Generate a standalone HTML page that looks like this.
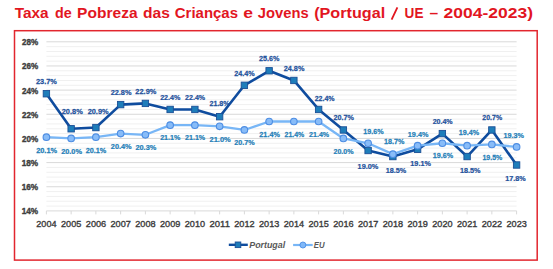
<!DOCTYPE html><html><head><meta charset="utf-8"><style>html,body{margin:0;padding:0;background:#fff;width:553px;height:269px;overflow:hidden}svg{display:block}text{font-family:"Liberation Sans",sans-serif}</style></head><body>
<svg width="553" height="269" viewBox="0 0 553 269">
<text transform="translate(14.65,18.00) scale(1.038,1)" font-size="14.8" font-weight="bold" font-style="normal" fill="#E2161F" >Taxa</text>
<text transform="translate(54.93,18.00) scale(0.967,1)" font-size="14.8" font-weight="bold" font-style="normal" fill="#E2161F" >de</text>
<text transform="translate(77.09,18.00) scale(1.051,1)" font-size="14.8" font-weight="bold" font-style="normal" fill="#E2161F" >Pobreza</text>
<text transform="translate(143.08,18.00) scale(1.055,1)" font-size="14.8" font-weight="bold" font-style="normal" fill="#E2161F" >das</text>
<text transform="translate(174.80,18.00) scale(1.012,1)" font-size="14.8" font-weight="bold" font-style="normal" fill="#E2161F" >Crianças</text>
<text transform="translate(243.20,18.00) scale(1.182,1)" font-size="14.8" font-weight="bold" font-style="normal" fill="#E2161F" >e</text>
<text transform="translate(257.78,18.00) scale(0.997,1)" font-size="14.8" font-weight="bold" font-style="normal" fill="#E2161F" >Jovens</text>
<text transform="translate(314.19,18.00) scale(1.093,1)" font-size="14.8" font-weight="bold" font-style="normal" fill="#E2161F" >(Portugal</text>
<text transform="translate(404.59,18.00) scale(0.917,1)" font-size="14.8" font-weight="bold" font-style="normal" fill="#E2161F" >UE</text>
<text transform="translate(429.43,18.00) scale(1.051,1)" font-size="14.8" font-weight="bold" font-style="normal" fill="#E2161F" >–</text>
<text transform="translate(443.59,18.00) scale(1.181,1)" font-size="14.8" font-weight="bold" font-style="normal" fill="#E2161F" >2004-2023)</text>
<line x1="391.6" y1="19.6" x2="397.4" y2="7.4" stroke="#E2161F" stroke-width="1.8"/>
<rect x="14.5" y="30.7" width="522.7" height="229.4" fill="none" stroke="#E2262E" stroke-width="1.5"/>
<line x1="46.40" x2="516.6" y1="206.07" y2="206.07" stroke="#F0F0F0" stroke-width="1"/>
<line x1="46.40" x2="516.6" y1="201.24" y2="201.24" stroke="#F0F0F0" stroke-width="1"/>
<line x1="46.40" x2="516.6" y1="196.41" y2="196.41" stroke="#F0F0F0" stroke-width="1"/>
<line x1="46.40" x2="516.6" y1="191.57" y2="191.57" stroke="#F0F0F0" stroke-width="1"/>
<line x1="46.40" x2="516.6" y1="186.74" y2="186.74" stroke="#D9D9D9" stroke-width="1"/>
<line x1="46.40" x2="516.6" y1="181.91" y2="181.91" stroke="#F0F0F0" stroke-width="1"/>
<line x1="46.40" x2="516.6" y1="177.08" y2="177.08" stroke="#F0F0F0" stroke-width="1"/>
<line x1="46.40" x2="516.6" y1="172.25" y2="172.25" stroke="#F0F0F0" stroke-width="1"/>
<line x1="46.40" x2="516.6" y1="167.42" y2="167.42" stroke="#F0F0F0" stroke-width="1"/>
<line x1="46.40" x2="516.6" y1="162.59" y2="162.59" stroke="#D9D9D9" stroke-width="1"/>
<line x1="46.40" x2="516.6" y1="157.75" y2="157.75" stroke="#F0F0F0" stroke-width="1"/>
<line x1="46.40" x2="516.6" y1="152.92" y2="152.92" stroke="#F0F0F0" stroke-width="1"/>
<line x1="46.40" x2="516.6" y1="148.09" y2="148.09" stroke="#F0F0F0" stroke-width="1"/>
<line x1="46.40" x2="516.6" y1="143.26" y2="143.26" stroke="#F0F0F0" stroke-width="1"/>
<line x1="46.40" x2="516.6" y1="138.43" y2="138.43" stroke="#D9D9D9" stroke-width="1"/>
<line x1="46.40" x2="516.6" y1="133.60" y2="133.60" stroke="#F0F0F0" stroke-width="1"/>
<line x1="46.40" x2="516.6" y1="128.77" y2="128.77" stroke="#F0F0F0" stroke-width="1"/>
<line x1="46.40" x2="516.6" y1="123.93" y2="123.93" stroke="#F0F0F0" stroke-width="1"/>
<line x1="46.40" x2="516.6" y1="119.10" y2="119.10" stroke="#F0F0F0" stroke-width="1"/>
<line x1="46.40" x2="516.6" y1="114.27" y2="114.27" stroke="#D9D9D9" stroke-width="1"/>
<line x1="46.40" x2="516.6" y1="109.44" y2="109.44" stroke="#F0F0F0" stroke-width="1"/>
<line x1="46.40" x2="516.6" y1="104.61" y2="104.61" stroke="#F0F0F0" stroke-width="1"/>
<line x1="46.40" x2="516.6" y1="99.78" y2="99.78" stroke="#F0F0F0" stroke-width="1"/>
<line x1="46.40" x2="516.6" y1="94.95" y2="94.95" stroke="#F0F0F0" stroke-width="1"/>
<line x1="46.40" x2="516.6" y1="90.11" y2="90.11" stroke="#D9D9D9" stroke-width="1"/>
<line x1="46.40" x2="516.6" y1="85.28" y2="85.28" stroke="#F0F0F0" stroke-width="1"/>
<line x1="46.40" x2="516.6" y1="80.45" y2="80.45" stroke="#F0F0F0" stroke-width="1"/>
<line x1="46.40" x2="516.6" y1="75.62" y2="75.62" stroke="#F0F0F0" stroke-width="1"/>
<line x1="46.40" x2="516.6" y1="70.79" y2="70.79" stroke="#F0F0F0" stroke-width="1"/>
<line x1="46.40" x2="516.6" y1="65.96" y2="65.96" stroke="#D9D9D9" stroke-width="1"/>
<line x1="46.40" x2="516.6" y1="61.13" y2="61.13" stroke="#F0F0F0" stroke-width="1"/>
<line x1="46.40" x2="516.6" y1="56.29" y2="56.29" stroke="#F0F0F0" stroke-width="1"/>
<line x1="46.40" x2="516.6" y1="51.46" y2="51.46" stroke="#F0F0F0" stroke-width="1"/>
<line x1="46.40" x2="516.6" y1="46.63" y2="46.63" stroke="#F0F0F0" stroke-width="1"/>
<line x1="46.40" x2="516.6" y1="41.80" y2="41.80" stroke="#D9D9D9" stroke-width="1"/>
<line x1="46.40" x2="516.6" y1="210.90" y2="210.90" stroke="#D9D9D9" stroke-width="1"/>
<line x1="46.40" x2="46.40" y1="210.90" y2="214.40" stroke="#D9D9D9" stroke-width="1"/>
<line x1="71.15" x2="71.15" y1="210.90" y2="214.40" stroke="#D9D9D9" stroke-width="1"/>
<line x1="95.89" x2="95.89" y1="210.90" y2="214.40" stroke="#D9D9D9" stroke-width="1"/>
<line x1="120.64" x2="120.64" y1="210.90" y2="214.40" stroke="#D9D9D9" stroke-width="1"/>
<line x1="145.39" x2="145.39" y1="210.90" y2="214.40" stroke="#D9D9D9" stroke-width="1"/>
<line x1="170.14" x2="170.14" y1="210.90" y2="214.40" stroke="#D9D9D9" stroke-width="1"/>
<line x1="194.88" x2="194.88" y1="210.90" y2="214.40" stroke="#D9D9D9" stroke-width="1"/>
<line x1="219.63" x2="219.63" y1="210.90" y2="214.40" stroke="#D9D9D9" stroke-width="1"/>
<line x1="244.38" x2="244.38" y1="210.90" y2="214.40" stroke="#D9D9D9" stroke-width="1"/>
<line x1="269.13" x2="269.13" y1="210.90" y2="214.40" stroke="#D9D9D9" stroke-width="1"/>
<line x1="293.87" x2="293.87" y1="210.90" y2="214.40" stroke="#D9D9D9" stroke-width="1"/>
<line x1="318.62" x2="318.62" y1="210.90" y2="214.40" stroke="#D9D9D9" stroke-width="1"/>
<line x1="343.37" x2="343.37" y1="210.90" y2="214.40" stroke="#D9D9D9" stroke-width="1"/>
<line x1="368.12" x2="368.12" y1="210.90" y2="214.40" stroke="#D9D9D9" stroke-width="1"/>
<line x1="392.86" x2="392.86" y1="210.90" y2="214.40" stroke="#D9D9D9" stroke-width="1"/>
<line x1="417.61" x2="417.61" y1="210.90" y2="214.40" stroke="#D9D9D9" stroke-width="1"/>
<line x1="442.36" x2="442.36" y1="210.90" y2="214.40" stroke="#D9D9D9" stroke-width="1"/>
<line x1="467.11" x2="467.11" y1="210.90" y2="214.40" stroke="#D9D9D9" stroke-width="1"/>
<line x1="491.85" x2="491.85" y1="210.90" y2="214.40" stroke="#D9D9D9" stroke-width="1"/>
<line x1="516.60" x2="516.60" y1="210.90" y2="214.40" stroke="#D9D9D9" stroke-width="1"/>
<text transform="translate(21.67,214.30) scale(0.934,1)" font-size="8.8" font-weight="bold" font-style="normal" fill="#3F3F3F" stroke="#3F3F3F" stroke-width="0.4">14%</text>
<text transform="translate(21.67,190.14) scale(0.934,1)" font-size="8.8" font-weight="bold" font-style="normal" fill="#3F3F3F" stroke="#3F3F3F" stroke-width="0.4">16%</text>
<text transform="translate(21.67,165.99) scale(0.934,1)" font-size="8.8" font-weight="bold" font-style="normal" fill="#3F3F3F" stroke="#3F3F3F" stroke-width="0.4">18%</text>
<text transform="translate(21.92,141.83) scale(0.920,1)" font-size="8.8" font-weight="bold" font-style="normal" fill="#3F3F3F" stroke="#3F3F3F" stroke-width="0.4">20%</text>
<text transform="translate(21.92,117.67) scale(0.920,1)" font-size="8.8" font-weight="bold" font-style="normal" fill="#3F3F3F" stroke="#3F3F3F" stroke-width="0.4">22%</text>
<text transform="translate(21.92,93.51) scale(0.920,1)" font-size="8.8" font-weight="bold" font-style="normal" fill="#3F3F3F" stroke="#3F3F3F" stroke-width="0.4">24%</text>
<text transform="translate(21.92,69.36) scale(0.920,1)" font-size="8.8" font-weight="bold" font-style="normal" fill="#3F3F3F" stroke="#3F3F3F" stroke-width="0.4">26%</text>
<text transform="translate(21.92,45.20) scale(0.920,1)" font-size="8.8" font-weight="bold" font-style="normal" fill="#3F3F3F" stroke="#3F3F3F" stroke-width="0.4">28%</text>
<text transform="translate(36.30,227.10) scale(0.978,1)" font-size="9.3" font-weight="normal" font-style="normal" fill="#3A3A3A" stroke="#3A3A3A" stroke-width="0.35">2004</text>
<text transform="translate(61.04,227.10) scale(0.982,1)" font-size="9.3" font-weight="normal" font-style="normal" fill="#3A3A3A" stroke="#3A3A3A" stroke-width="0.35">2005</text>
<text transform="translate(85.79,227.10) scale(0.984,1)" font-size="9.3" font-weight="normal" font-style="normal" fill="#3A3A3A" stroke="#3A3A3A" stroke-width="0.35">2006</text>
<text transform="translate(110.53,227.10) scale(0.987,1)" font-size="9.3" font-weight="normal" font-style="normal" fill="#3A3A3A" stroke="#3A3A3A" stroke-width="0.35">2007</text>
<text transform="translate(135.28,227.10) scale(0.982,1)" font-size="9.3" font-weight="normal" font-style="normal" fill="#3A3A3A" stroke="#3A3A3A" stroke-width="0.35">2008</text>
<text transform="translate(160.03,227.10) scale(0.984,1)" font-size="9.3" font-weight="normal" font-style="normal" fill="#3A3A3A" stroke="#3A3A3A" stroke-width="0.35">2009</text>
<text transform="translate(184.78,227.10) scale(0.982,1)" font-size="9.3" font-weight="normal" font-style="normal" fill="#3A3A3A" stroke="#3A3A3A" stroke-width="0.35">2010</text>
<text transform="translate(209.51,227.10) scale(1.023,1)" font-size="9.3" font-weight="normal" font-style="normal" fill="#3A3A3A" stroke="#3A3A3A" stroke-width="0.35">2011</text>
<text transform="translate(234.27,227.10) scale(0.987,1)" font-size="9.3" font-weight="normal" font-style="normal" fill="#3A3A3A" stroke="#3A3A3A" stroke-width="0.35">2012</text>
<text transform="translate(259.02,227.10) scale(0.984,1)" font-size="9.3" font-weight="normal" font-style="normal" fill="#3A3A3A" stroke="#3A3A3A" stroke-width="0.35">2013</text>
<text transform="translate(283.77,227.10) scale(0.978,1)" font-size="9.3" font-weight="normal" font-style="normal" fill="#3A3A3A" stroke="#3A3A3A" stroke-width="0.35">2014</text>
<text transform="translate(308.51,227.10) scale(0.982,1)" font-size="9.3" font-weight="normal" font-style="normal" fill="#3A3A3A" stroke="#3A3A3A" stroke-width="0.35">2015</text>
<text transform="translate(333.26,227.10) scale(0.984,1)" font-size="9.3" font-weight="normal" font-style="normal" fill="#3A3A3A" stroke="#3A3A3A" stroke-width="0.35">2016</text>
<text transform="translate(358.01,227.10) scale(0.987,1)" font-size="9.3" font-weight="normal" font-style="normal" fill="#3A3A3A" stroke="#3A3A3A" stroke-width="0.35">2017</text>
<text transform="translate(382.76,227.10) scale(0.982,1)" font-size="9.3" font-weight="normal" font-style="normal" fill="#3A3A3A" stroke="#3A3A3A" stroke-width="0.35">2018</text>
<text transform="translate(407.50,227.10) scale(0.984,1)" font-size="9.3" font-weight="normal" font-style="normal" fill="#3A3A3A" stroke="#3A3A3A" stroke-width="0.35">2019</text>
<text transform="translate(432.25,227.10) scale(0.982,1)" font-size="9.3" font-weight="normal" font-style="normal" fill="#3A3A3A" stroke="#3A3A3A" stroke-width="0.35">2020</text>
<text transform="translate(457.00,227.10) scale(0.987,1)" font-size="9.3" font-weight="normal" font-style="normal" fill="#3A3A3A" stroke="#3A3A3A" stroke-width="0.35">2021</text>
<text transform="translate(481.74,227.10) scale(0.987,1)" font-size="9.3" font-weight="normal" font-style="normal" fill="#3A3A3A" stroke="#3A3A3A" stroke-width="0.35">2022</text>
<text transform="translate(506.49,227.10) scale(0.984,1)" font-size="9.3" font-weight="normal" font-style="normal" fill="#3A3A3A" stroke="#3A3A3A" stroke-width="0.35">2023</text>
<polyline points="46.40,93.74 71.15,128.77 95.89,127.56 120.64,104.61 145.39,103.40 170.14,109.44 194.88,109.44 219.63,116.69 244.38,85.28 269.13,70.79 293.87,80.45 318.62,109.44 343.37,129.97 368.12,150.51 392.86,156.55 417.61,149.30 442.36,133.60 467.11,156.55 491.85,129.97 516.60,165.00" fill="none" stroke="#0F4C9E" stroke-width="2.6" stroke-linejoin="round"/>
<rect x="43.20" y="90.54" width="6.4" height="6.4" fill="#1E7DBA" stroke="#1B4F96" stroke-width="0.9"/>
<rect x="67.95" y="125.57" width="6.4" height="6.4" fill="#1E7DBA" stroke="#1B4F96" stroke-width="0.9"/>
<rect x="92.69" y="124.36" width="6.4" height="6.4" fill="#1E7DBA" stroke="#1B4F96" stroke-width="0.9"/>
<rect x="117.44" y="101.41" width="6.4" height="6.4" fill="#1E7DBA" stroke="#1B4F96" stroke-width="0.9"/>
<rect x="142.19" y="100.20" width="6.4" height="6.4" fill="#1E7DBA" stroke="#1B4F96" stroke-width="0.9"/>
<rect x="166.94" y="106.24" width="6.4" height="6.4" fill="#1E7DBA" stroke="#1B4F96" stroke-width="0.9"/>
<rect x="191.68" y="106.24" width="6.4" height="6.4" fill="#1E7DBA" stroke="#1B4F96" stroke-width="0.9"/>
<rect x="216.43" y="113.49" width="6.4" height="6.4" fill="#1E7DBA" stroke="#1B4F96" stroke-width="0.9"/>
<rect x="241.18" y="82.08" width="6.4" height="6.4" fill="#1E7DBA" stroke="#1B4F96" stroke-width="0.9"/>
<rect x="265.93" y="67.59" width="6.4" height="6.4" fill="#1E7DBA" stroke="#1B4F96" stroke-width="0.9"/>
<rect x="290.67" y="77.25" width="6.4" height="6.4" fill="#1E7DBA" stroke="#1B4F96" stroke-width="0.9"/>
<rect x="315.42" y="106.24" width="6.4" height="6.4" fill="#1E7DBA" stroke="#1B4F96" stroke-width="0.9"/>
<rect x="340.17" y="126.77" width="6.4" height="6.4" fill="#1E7DBA" stroke="#1B4F96" stroke-width="0.9"/>
<rect x="364.92" y="147.31" width="6.4" height="6.4" fill="#1E7DBA" stroke="#1B4F96" stroke-width="0.9"/>
<rect x="389.66" y="153.35" width="6.4" height="6.4" fill="#1E7DBA" stroke="#1B4F96" stroke-width="0.9"/>
<rect x="414.41" y="146.10" width="6.4" height="6.4" fill="#1E7DBA" stroke="#1B4F96" stroke-width="0.9"/>
<rect x="439.16" y="130.40" width="6.4" height="6.4" fill="#1E7DBA" stroke="#1B4F96" stroke-width="0.9"/>
<rect x="463.91" y="153.35" width="6.4" height="6.4" fill="#1E7DBA" stroke="#1B4F96" stroke-width="0.9"/>
<rect x="488.65" y="126.77" width="6.4" height="6.4" fill="#1E7DBA" stroke="#1B4F96" stroke-width="0.9"/>
<rect x="513.40" y="161.80" width="6.4" height="6.4" fill="#1E7DBA" stroke="#1B4F96" stroke-width="0.9"/>
<polyline points="46.40,137.22 71.15,138.43 95.89,137.22 120.64,133.60 145.39,134.80 170.14,125.14 194.88,125.14 219.63,126.35 244.38,129.97 269.13,121.52 293.87,121.52 318.62,121.52 343.37,138.43 368.12,143.26 392.86,154.13 417.61,145.68 442.36,143.26 467.11,145.68 491.85,144.47 516.60,146.88" fill="none" stroke="#78B6F6" stroke-width="2.3" stroke-linejoin="round"/>
<circle cx="46.40" cy="137.22" r="3.3" fill="#88BCF8" stroke="#4D8DE3" stroke-width="1.1"/>
<circle cx="71.15" cy="138.43" r="3.3" fill="#88BCF8" stroke="#4D8DE3" stroke-width="1.1"/>
<circle cx="95.89" cy="137.22" r="3.3" fill="#88BCF8" stroke="#4D8DE3" stroke-width="1.1"/>
<circle cx="120.64" cy="133.60" r="3.3" fill="#88BCF8" stroke="#4D8DE3" stroke-width="1.1"/>
<circle cx="145.39" cy="134.80" r="3.3" fill="#88BCF8" stroke="#4D8DE3" stroke-width="1.1"/>
<circle cx="170.14" cy="125.14" r="3.3" fill="#88BCF8" stroke="#4D8DE3" stroke-width="1.1"/>
<circle cx="194.88" cy="125.14" r="3.3" fill="#88BCF8" stroke="#4D8DE3" stroke-width="1.1"/>
<circle cx="219.63" cy="126.35" r="3.3" fill="#88BCF8" stroke="#4D8DE3" stroke-width="1.1"/>
<circle cx="244.38" cy="129.97" r="3.3" fill="#88BCF8" stroke="#4D8DE3" stroke-width="1.1"/>
<circle cx="269.13" cy="121.52" r="3.3" fill="#88BCF8" stroke="#4D8DE3" stroke-width="1.1"/>
<circle cx="293.87" cy="121.52" r="3.3" fill="#88BCF8" stroke="#4D8DE3" stroke-width="1.1"/>
<circle cx="318.62" cy="121.52" r="3.3" fill="#88BCF8" stroke="#4D8DE3" stroke-width="1.1"/>
<circle cx="343.37" cy="138.43" r="3.3" fill="#88BCF8" stroke="#4D8DE3" stroke-width="1.1"/>
<circle cx="368.12" cy="143.26" r="3.3" fill="#88BCF8" stroke="#4D8DE3" stroke-width="1.1"/>
<circle cx="392.86" cy="154.13" r="3.3" fill="#88BCF8" stroke="#4D8DE3" stroke-width="1.1"/>
<circle cx="417.61" cy="145.68" r="3.3" fill="#88BCF8" stroke="#4D8DE3" stroke-width="1.1"/>
<circle cx="442.36" cy="143.26" r="3.3" fill="#88BCF8" stroke="#4D8DE3" stroke-width="1.1"/>
<circle cx="467.11" cy="145.68" r="3.3" fill="#88BCF8" stroke="#4D8DE3" stroke-width="1.1"/>
<circle cx="491.85" cy="144.47" r="3.3" fill="#88BCF8" stroke="#4D8DE3" stroke-width="1.1"/>
<circle cx="516.60" cy="146.88" r="3.3" fill="#88BCF8" stroke="#4D8DE3" stroke-width="1.1"/>
<text transform="translate(35.94,83.80) scale(0.912,1)" font-size="8.1" font-weight="bold" font-style="normal" fill="#1F529C" stroke="#1F529C" stroke-width="0.25">23.7%</text>
<text transform="translate(61.74,113.70) scale(0.916,1)" font-size="8.1" font-weight="bold" font-style="normal" fill="#1F529C" stroke="#1F529C" stroke-width="0.25">20.8%</text>
<text transform="translate(87.64,113.70) scale(0.916,1)" font-size="8.1" font-weight="bold" font-style="normal" fill="#1F529C" stroke="#1F529C" stroke-width="0.25">20.9%</text>
<text transform="translate(110.64,94.90) scale(0.908,1)" font-size="8.1" font-weight="bold" font-style="normal" fill="#1F529C" stroke="#1F529C" stroke-width="0.25">22.8%</text>
<text transform="translate(135.34,94.20) scale(0.916,1)" font-size="8.1" font-weight="bold" font-style="normal" fill="#1F529C" stroke="#1F529C" stroke-width="0.25">22.9%</text>
<text transform="translate(160.15,100.10) scale(0.885,1)" font-size="8.1" font-weight="bold" font-style="normal" fill="#1F529C" stroke="#1F529C" stroke-width="0.25">22.4%</text>
<text transform="translate(185.05,100.10) scale(0.876,1)" font-size="8.1" font-weight="bold" font-style="normal" fill="#1F529C" stroke="#1F529C" stroke-width="0.25">22.4%</text>
<text transform="translate(209.45,106.10) scale(0.881,1)" font-size="8.1" font-weight="bold" font-style="normal" fill="#1F529C" stroke="#1F529C" stroke-width="0.25">21.8%</text>
<text transform="translate(234.15,75.90) scale(0.890,1)" font-size="8.1" font-weight="bold" font-style="normal" fill="#1F529C" stroke="#1F529C" stroke-width="0.25">24.4%</text>
<text transform="translate(259.05,61.00) scale(0.890,1)" font-size="8.1" font-weight="bold" font-style="normal" fill="#1F529C" stroke="#1F529C" stroke-width="0.25">25.6%</text>
<text transform="translate(283.75,71.10) scale(0.899,1)" font-size="8.1" font-weight="bold" font-style="normal" fill="#1F529C" stroke="#1F529C" stroke-width="0.25">24.8%</text>
<text transform="translate(314.65,100.60) scale(0.868,1)" font-size="8.1" font-weight="bold" font-style="normal" fill="#1F529C" stroke="#1F529C" stroke-width="0.25">22.4%</text>
<text transform="translate(333.45,119.80) scale(0.890,1)" font-size="8.1" font-weight="bold" font-style="normal" fill="#1F529C" stroke="#1F529C" stroke-width="0.25">20.7%</text>
<text transform="translate(357.62,169.20) scale(0.904,1)" font-size="8.1" font-weight="bold" font-style="normal" fill="#1F529C" stroke="#1F529C" stroke-width="0.25">19.0%</text>
<text transform="translate(385.63,172.80) scale(0.891,1)" font-size="8.1" font-weight="bold" font-style="normal" fill="#1F529C" stroke="#1F529C" stroke-width="0.25">18.5%</text>
<text transform="translate(410.33,165.50) scale(0.895,1)" font-size="8.1" font-weight="bold" font-style="normal" fill="#1F529C" stroke="#1F529C" stroke-width="0.25">19.1%</text>
<text transform="translate(432.65,123.80) scale(0.872,1)" font-size="8.1" font-weight="bold" font-style="normal" fill="#1F529C" stroke="#1F529C" stroke-width="0.25">20.4%</text>
<text transform="translate(459.93,172.90) scale(0.895,1)" font-size="8.1" font-weight="bold" font-style="normal" fill="#1F529C" stroke="#1F529C" stroke-width="0.25">18.5%</text>
<text transform="translate(482.36,120.30) scale(0.859,1)" font-size="8.1" font-weight="bold" font-style="normal" fill="#1F529C" stroke="#1F529C" stroke-width="0.25">20.7%</text>
<text transform="translate(505.13,181.10) scale(0.891,1)" font-size="8.1" font-weight="bold" font-style="normal" fill="#1F529C" stroke="#1F529C" stroke-width="0.25">17.8%</text>
<text transform="translate(36.14,152.60) scale(0.912,1)" font-size="8.1" font-weight="bold" font-style="normal" fill="#2580B8" stroke="#2580B8" stroke-width="0.25">20.1%</text>
<text transform="translate(61.14,153.60) scale(0.908,1)" font-size="8.1" font-weight="bold" font-style="normal" fill="#2580B8" stroke="#2580B8" stroke-width="0.25">20.0%</text>
<text transform="translate(85.75,152.60) scale(0.894,1)" font-size="8.1" font-weight="bold" font-style="normal" fill="#2580B8" stroke="#2580B8" stroke-width="0.25">20.1%</text>
<text transform="translate(110.84,149.40) scale(0.908,1)" font-size="8.1" font-weight="bold" font-style="normal" fill="#2580B8" stroke="#2580B8" stroke-width="0.25">20.4%</text>
<text transform="translate(135.44,150.10) scale(0.908,1)" font-size="8.1" font-weight="bold" font-style="normal" fill="#2580B8" stroke="#2580B8" stroke-width="0.25">20.3%</text>
<text transform="translate(160.15,140.00) scale(0.876,1)" font-size="8.1" font-weight="bold" font-style="normal" fill="#2580B8" stroke="#2580B8" stroke-width="0.25">21.1%</text>
<text transform="translate(185.05,140.00) scale(0.876,1)" font-size="8.1" font-weight="bold" font-style="normal" fill="#2580B8" stroke="#2580B8" stroke-width="0.25">21.1%</text>
<text transform="translate(209.54,141.80) scale(0.921,1)" font-size="8.1" font-weight="bold" font-style="normal" fill="#2580B8" stroke="#2580B8" stroke-width="0.25">21.0%</text>
<text transform="translate(234.25,145.40) scale(0.885,1)" font-size="8.1" font-weight="bold" font-style="normal" fill="#2580B8" stroke="#2580B8" stroke-width="0.25">20.7%</text>
<text transform="translate(259.35,136.50) scale(0.894,1)" font-size="8.1" font-weight="bold" font-style="normal" fill="#2580B8" stroke="#2580B8" stroke-width="0.25">21.4%</text>
<text transform="translate(284.56,136.50) scale(0.859,1)" font-size="8.1" font-weight="bold" font-style="normal" fill="#2580B8" stroke="#2580B8" stroke-width="0.25">21.4%</text>
<text transform="translate(309.05,137.10) scale(0.876,1)" font-size="8.1" font-weight="bold" font-style="normal" fill="#2580B8" stroke="#2580B8" stroke-width="0.25">21.4%</text>
<text transform="translate(333.45,153.90) scale(0.876,1)" font-size="8.1" font-weight="bold" font-style="normal" fill="#2580B8" stroke="#2580B8" stroke-width="0.25">20.0%</text>
<text transform="translate(363.33,134.30) scale(0.886,1)" font-size="8.1" font-weight="bold" font-style="normal" fill="#2580B8" stroke="#2580B8" stroke-width="0.25">19.6%</text>
<text transform="translate(383.93,144.40) scale(0.886,1)" font-size="8.1" font-weight="bold" font-style="normal" fill="#2580B8" stroke="#2580B8" stroke-width="0.25">18.7%</text>
<text transform="translate(407.83,137.10) scale(0.895,1)" font-size="8.1" font-weight="bold" font-style="normal" fill="#2580B8" stroke="#2580B8" stroke-width="0.25">19.4%</text>
<text transform="translate(432.73,158.30) scale(0.886,1)" font-size="8.1" font-weight="bold" font-style="normal" fill="#2580B8" stroke="#2580B8" stroke-width="0.25">19.6%</text>
<text transform="translate(458.83,135.00) scale(0.886,1)" font-size="8.1" font-weight="bold" font-style="normal" fill="#2580B8" stroke="#2580B8" stroke-width="0.25">19.4%</text>
<text transform="translate(482.45,159.90) scale(0.864,1)" font-size="8.1" font-weight="bold" font-style="normal" fill="#2580B8" stroke="#2580B8" stroke-width="0.25">19.5%</text>
<text transform="translate(503.53,137.90) scale(0.891,1)" font-size="8.1" font-weight="bold" font-style="normal" fill="#2580B8" stroke="#2580B8" stroke-width="0.25">19.3%</text>
<line x1="228.8" x2="247.8" y1="244.8" y2="244.8" stroke="#0F4C9E" stroke-width="2.4"/>
<rect x="235.2" y="242.0" width="5.6" height="5.6" fill="#1E7DBA" stroke="#1B4F96" stroke-width="0.9"/>
<text transform="translate(249.22,247.60) scale(1.057,1)" font-size="8.4" font-weight="bold" font-style="italic" fill="#595959" >Portugal</text>
<line x1="293.1" x2="312.7" y1="245" y2="245" stroke="#78B6F6" stroke-width="2.2"/>
<circle cx="302.9" cy="245" r="3.0" fill="#80B8F8" stroke="#4C8FE6" stroke-width="0.9"/>
<text transform="translate(313.84,247.60) scale(0.928,1)" font-size="8.4" font-weight="bold" font-style="italic" fill="#595959" >EU</text>
</svg></body></html>
